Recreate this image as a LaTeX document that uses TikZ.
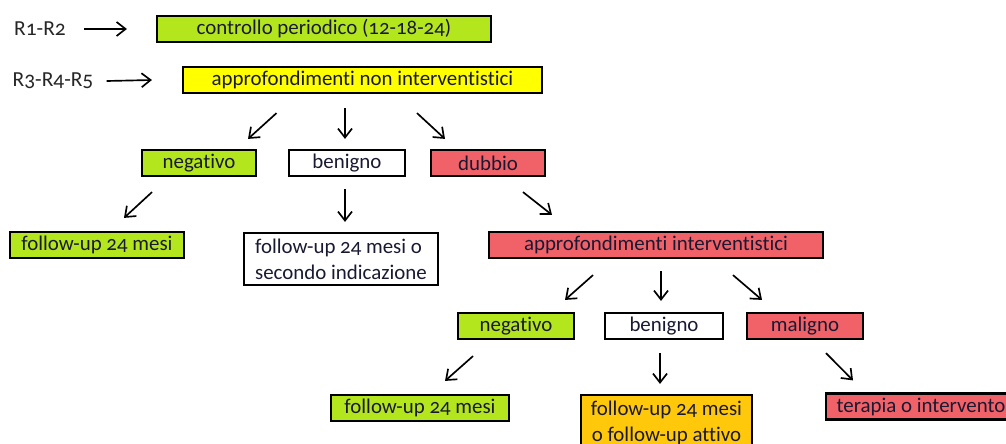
\documentclass[tikz,border=0pt]{standalone}
\usepackage{fontspec}
\setmainfont[Numbers=OldStyle,Ligatures=NoCommon]{Carlito}
\usepackage{tikz}
\usetikzlibrary{arrows.meta,calc,positioning}
\definecolor{boxgreen}{RGB}{180,230,30}
\definecolor{boxyellow}{RGB}{255,255,0}
\definecolor{boxred}{RGB}{240,98,104}
\definecolor{boxorange}{RGB}{255,200,10}
\definecolor{inktext}{RGB}{25,25,50}
\tikzset{
  box/.style={draw=black, line width=1.25pt, inner sep=0pt, text=inktext, font=\fontsize{11.9pt}{14.8pt}\selectfont},
  arr/.style={line width=0.95pt, -{Straight Barb[length=1.8mm,width=2.8mm]}},
  lbl/.style={inner sep=0pt, text=black!85, font=\fontsize{12.2pt}{14pt}\selectfont}
}
\begin{document}
\begin{tikzpicture}[x=0.02cm,y=-0.02cm]
		\useasboundingbox (0,0) rectangle (1006,443);
		\clip (0,0) rectangle (1006,443);
		% first rows
		\node [lbl](r12) at (40,29) {R1-R2};
		\node [lbl](r345) at (53,81) {R3-R4-R5};
		\node [box,fill=boxgreen,minimum width=6.68cm,minimum height=0.52cm](contr) at (324,29) {controllo periodico (12-18-24)};
		\node [box,fill=boxyellow,minimum width=7.18cm,minimum height=0.52cm](appr) at (362.5,80) {approfondimenti non interventistici};
		\draw [arr] ($(r12.east)+(18,0)$) -- ($(contr.west)+(-29,0)$);
		\draw [arr] ($(r345.east)+(13,0)$) -- ($(appr.west)+(-30,0)$);
		% esito non interventistico
		\node [box,fill=boxgreen,minimum width=2.28cm,minimum height=0.52cm](neg1) at (199,163) {negativo};
		\node [box,fill=white,minimum width=2.32cm,minimum height=0.52cm](ben1) at (347,163) {benigno};
		\node [box,fill=boxred,minimum width=2.28cm,minimum height=0.52cm](dub1) at (488,163) {dubbio};
		\draw [arr] ($(appr.south)+(-86,19)$) -- ($(neg1.north)+(49,-10)$);
		\draw [arr] ($(appr.south -| ben1)+(-2,14)$) -- ($(ben1.north)+(-2,-10)$);
		\draw [arr] ($(appr.south)+(54.5,19)$) -- ($(dub1.north)+(-43,-10)$);
		\node [box,fill=boxgreen,minimum width=3.48cm,minimum height=0.52cm](fu1) at (97,245) {follow-up 24 mesi};
		\node [box,fill=white,minimum width=3.88cm,minimum height=1.04cm,align=left](fu2) at (341,259) {follow-up 24 mesi o\\secondo indicazione};
		\node [box,fill=boxred,minimum width=6.68cm,minimum height=0.52cm](appi) at (656,245) {approfondimenti interventistici};
		\draw [arr] ($(neg1.south)+(-47,15)$) -- ($(fu1.north)+(27,-13)$);
		\draw [arr] ($(ben1.south)+(-2,12)$) -- ($(fu2.north)+(4,-10)$);
		\draw [arr] ($(dub1.south)+(35,15)$) -- ($(appi.north)+(-104,-16)$);
		% esito interventistico
		\node [box,fill=boxgreen,minimum width=2.32cm,minimum height=0.52cm](neg2) at (516,326) {negativo};
		\node [box,fill=white,minimum width=2.36cm,minimum height=0.52cm](ben2) at (664,326) {benigno};
		\node [box,fill=boxred,minimum width=2.32cm,minimum height=0.52cm](mal) at (805,326) {maligno};
		\draw [arr] ($(appi.south)+(-63,16)$) -- ($(neg2.north)+(49,-12)$);
		\draw [arr] ($(appi.south)+(5,12)$) -- ($(ben2.north)+(-3,-11)$);
		\draw [arr] ($(appi.south)+(77,16)$) -- ($(mal.north)+(-43,-12)$);
		\node [box,fill=boxgreen,minimum width=3.56cm,minimum height=0.52cm](fu3) at (420,408) {follow-up 24 mesi};
		\node [box,fill=boxorange,minimum width=3.42cm,minimum height=1.12cm,align=center](fu4) at (666.5,423) {follow-up 24 mesi\\o follow-up attivo};
		\node [box,fill=boxred,minimum width=3.8cm,minimum height=0.52cm](ter) at (921,406.5) {terapia o intervento};
		\draw [arr] ($(neg2.south)+(-43,16)$) -- ($(fu3.north)+(25,-13)$);
		\draw [arr] ($(ben2.south)+(-4,13)$) -- ($(fu4.north)+(-6.5,-10)$);
		\draw [arr] ($(mal.south)+(21,13)$) -- ($(ter.north)+(-68,-12)$);
\end{tikzpicture}
\end{document}
